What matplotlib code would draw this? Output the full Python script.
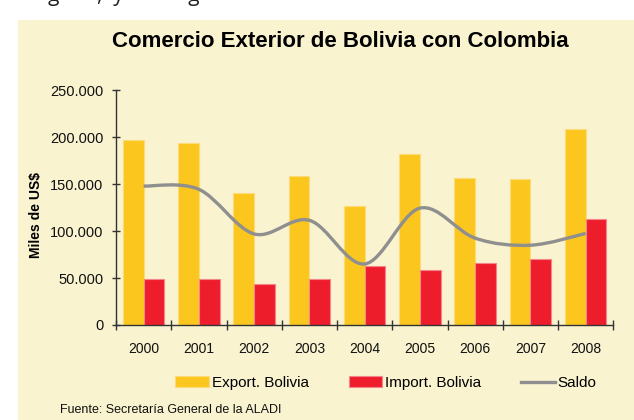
import matplotlib
matplotlib.use("Agg")
import matplotlib.pyplot as plt
import numpy as np
from matplotlib.path import Path
from matplotlib.patches import PathPatch, Patch, Rectangle
from matplotlib.lines import Line2D
from matplotlib.ticker import FuncFormatter, MultipleLocator, FixedLocator

years = ["2000", "2001", "2002", "2003", "2004", "2005", "2006", "2007", "2008"]
export_bolivia = [197000, 193500, 140500, 158500, 127000, 182000, 157000, 155000, 208500]
import_bolivia = [48600, 48600, 44000, 48600, 62400, 58500, 65600, 70200, 112400]
saldo = [148000, 144500, 97000, 111500, 65000, 124500, 92500, 85000, 97500]

title = "Comercio Exterior de Bolivia con Colombia"
ylabel = "Miles de US$"
source = "Fuente: Secretaría General de la ALADI"
legend_labels = ["Export. Bolivia", "Import. Bolivia", "Saldo"]

BG = "#F9F3D0"
YEL = "#FBC61E"
RED = "#EE1D2C"
GRAY = "#8F8F8F"

plt.rcParams['font.family'] = ['Liberation Sans', 'DejaVu Sans']

fig = plt.figure(figsize=(6.34, 4.2), dpi=100)
fig.patch.set_facecolor("white")
# beige panel
fig.patches.append(Rectangle((18/634, 0), 1, 1 - 20/420, transform=fig.transFigure,
                             facecolor=BG, edgecolor="none", zorder=-10))
# clipped document text at top
fig.text(48/634, 1 - 1/420, "g       ,  y            g", fontsize=15, family="Open Sans",
         va="baseline", ha="left", color="#222222")

ax = fig.add_axes([116/634, 1 - 325/420, (613.3 - 116)/634, (325 - 90.3)/420])
ax.set_facecolor("none")

x = np.arange(len(years))
w = 0.375
ax.bar(x - w/2, export_bolivia, width=w, color=YEL, edgecolor="#FDDB78", linewidth=0.8, zorder=2)
ax.bar(x + w/2, import_bolivia, width=w, color=RED, edgecolor="#F4858A", linewidth=0.8, zorder=2)

# smoothed line (Excel-style Catmull-Rom bezier)
pts = np.column_stack([x, saldo]).astype(float)
verts = [pts[0]]
codes = [Path.MOVETO]
n = len(pts)
for i in range(n - 1):
    p0 = pts[i - 1] if i > 0 else pts[i]
    p1 = pts[i]
    p2 = pts[i + 1]
    p3 = pts[i + 2] if i + 2 < n else pts[i + 1]
    c1 = p1 + (p2 - p0) / 6.0
    c2 = p2 - (p3 - p1) / 6.0
    verts += [c1, c2, p2]
    codes += [Path.CURVE4] * 3
ax.add_patch(PathPatch(Path(verts, codes), facecolor="none", edgecolor=GRAY, linewidth=2.4,
                       zorder=3, capstyle="butt"))

ax.set_xlim(-0.5, len(years) - 0.5)
ax.set_ylim(0, 250000)
ax.yaxis.set_major_locator(MultipleLocator(50000))
ax.yaxis.set_major_formatter(FuncFormatter(lambda v, p: "0" if v == 0 else f"{int(v):,}".replace(",", ".")))
ax.xaxis.set_major_locator(FixedLocator(x))
ax.set_xticklabels(years)
ax.xaxis.set_minor_locator(FixedLocator(np.arange(-0.5, len(years), 1.0)))

for s in ["top", "right"]:
    ax.spines[s].set_visible(False)
for s in ["left", "bottom"]:
    ax.spines[s].set_color("#333333")
    ax.spines[s].set_linewidth(1.0)

ax.tick_params(axis="y", which="major", direction="inout", length=6, width=1.0, color="#333333",
               labelsize=10.5, pad=6, labelcolor="#111111")
ax.tick_params(axis="x", which="major", length=0, labelsize=10, pad=12, labelcolor="#111111")
ax.tick_params(axis="x", which="minor", direction="inout", length=7, width=1.0, color="#333333")

fig.text(340/634, 1 - 41.5/420, title, ha="center", va="center", fontsize=16, fontweight="bold")
fig.text(36/634, 1 - 215/420, ylabel, ha="center", va="center", rotation=90, fontsize=10,
         fontweight="bold")

handles = [Patch(facecolor=YEL, edgecolor="#FDDB78", linewidth=0.8),
           Patch(facecolor=RED, edgecolor="#F4858A", linewidth=0.8),
           Line2D([0], [0], color=GRAY, linewidth=2.4)]
fig.legend(handles, legend_labels, loc="center", bbox_to_anchor=(386/634, 1 - 383/420), ncol=3,
           frameon=False, fontsize=11, handlelength=2.2, handleheight=0.75, handletextpad=0.2,
           columnspacing=2.6, borderaxespad=0)

fig.text(60/634, 1 - 410/420, source, ha="left", va="center", fontsize=9, color="#111111")

fig.savefig("out.png", dpi=100, facecolor=fig.get_facecolor())
